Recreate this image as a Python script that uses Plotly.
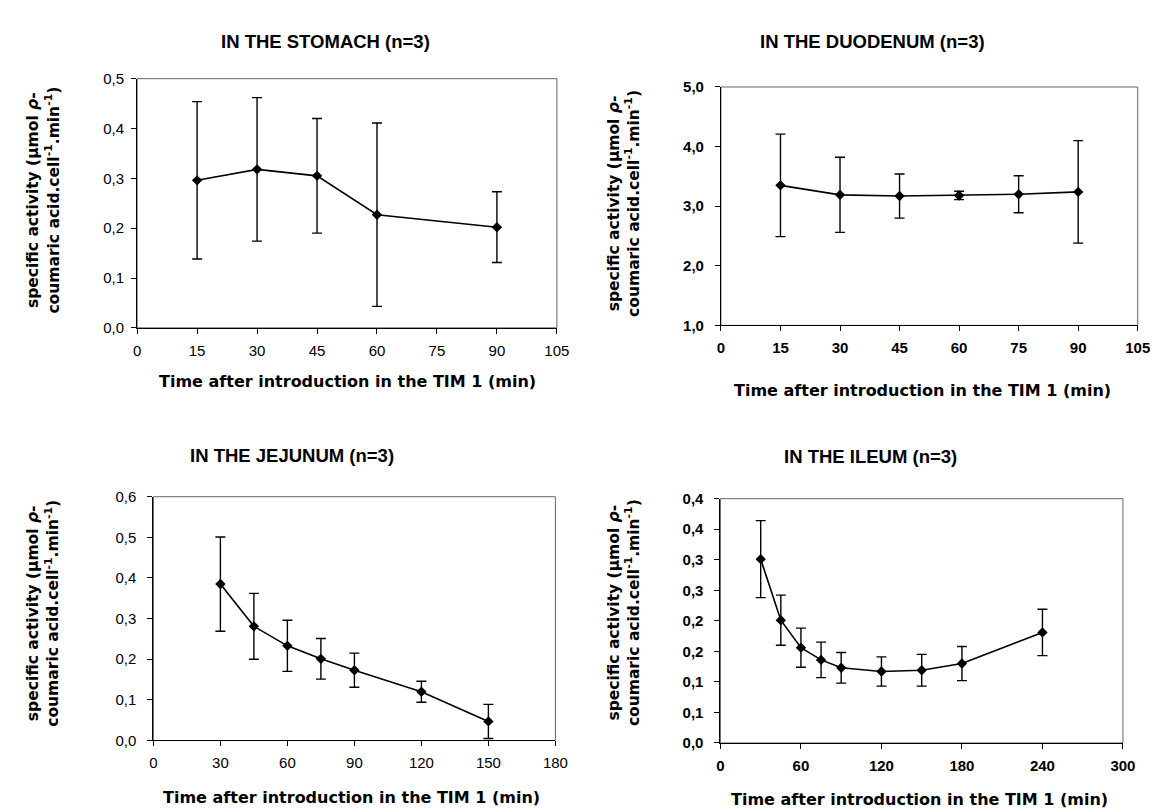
import plotly.graph_objects as go

W, H = 1158, 810

# ---------------- data ----------------
stomach_t = [15, 30, 45, 60, 90]
stomach_v = [0.296, 0.318, 0.305, 0.227, 0.202]
stomach_e = [0.158, 0.144, 0.115, 0.184, 0.071]

duod_t = [15, 30, 45, 60, 75, 90]
duod_v = [3.35, 3.19, 3.17, 3.18, 3.20, 3.24]
duod_e = [0.86, 0.63, 0.37, 0.07, 0.31, 0.86]

jej_t = [30, 45, 60, 75, 90, 120, 150]
jej_v = [0.385, 0.281, 0.233, 0.201, 0.173, 0.120, 0.047]
jej_e = [0.116, 0.081, 0.063, 0.050, 0.042, 0.026, 0.042]

ile_t = [30, 45, 60, 75, 90, 120, 150, 180, 240]
ile_v = [0.301, 0.201, 0.156, 0.136, 0.123, 0.117, 0.119, 0.130, 0.181]
ile_e = [0.063, 0.041, 0.032, 0.029, 0.025, 0.024, 0.026, 0.028, 0.038]

titles = ["IN THE STOMACH (n=3)", "IN THE DUODENUM (n=3)",
          "IN THE JEJUNUM (n=3)", "IN THE ILEUM (n=3)"]
x_title = "Time after introduction in the TIM 1 (min)"
y_title = "specific activity (µmol <i>ρ</i>-<br>coumaric acid.cell<sup>-1</sup>.min<sup>-1</sup>)"

stomach_yticks = [0, 0.1, 0.2, 0.3, 0.4, 0.5]
stomach_ylabels = ["0,0", "0,1", "0,2", "0,3", "0,4", "0,5"]
duod_yticks = [1, 2, 3, 4, 5]
duod_ylabels = ["1,0", "2,0", "3,0", "4,0", "5,0"]
jej_yticks = [0, 0.1, 0.2, 0.3, 0.4, 0.5, 0.6]
jej_ylabels = ["0,0", "0,1", "0,2", "0,3", "0,4", "0,5", "0,6"]
ile_yticks = [0, 0.05, 0.1, 0.15, 0.2, 0.25, 0.3, 0.35, 0.4]
ile_ylabels = ["0,0", "0,1", "0,1", "0,2", "0,2", "0,3", "0,3", "0,4", "0,4"]

stomach_xticks = [0, 15, 30, 45, 60, 75, 90, 105]
jej_xticks = [0, 30, 60, 90, 120, 150, 180]
ile_xticks = [0, 60, 120, 180, 240, 300]

# ---------------- layout helpers ----------------
def px_x(p):
    return p / W

def px_y(p):
    return 1 - p / H

panels = [
    dict(t=stomach_t, v=stomach_v, e=stomach_e, xr=[0, 105], yr=[0, 0.5],
         xt=stomach_xticks, yt=stomach_yticks, yl=stomach_ylabels,
         dom_x=[127, 553], dom_y=[63, 317.5], bold=False, ystand=4,
         title=(318, 25), xtitle=(340, 372), ytitle=(32, 187)),
    dict(t=duod_t, v=duod_v, e=duod_e, xr=[0, 105], yr=[1, 5],
         xt=stomach_xticks, yt=duod_yticks, yl=duod_ylabels,
         dom_x=[719.5, 1142.5], dom_y=[71.5, 315], bold=True, ystand=8,
         title=(873, 25), xtitle=(924, 382), ytitle=(621, 190)),
    dict(t=jej_t, v=jej_v, e=jej_e, xr=[0, 180], yr=[0, 0.6],
         xt=jej_xticks, yt=jej_yticks, yl=jej_ylabels,
         dom_x=[143.5, 551.5], dom_y=[490, 739], bold=False, ystand=8,
         title=(284, 448), xtitle=(345, 797), ytitle=(32, 609)),
    dict(t=ile_t, v=ile_v, e=ile_e, xr=[0, 300], yr=[0, 0.4],
         xt=ile_xticks, yt=ile_yticks, yl=ile_ylabels,
         dom_x=[719, 1127.5], dom_y=[492, 741.5], bold=True, ystand=8,
         title=(871, 449), xtitle=(921, 799), ytitle=(621, 608)),
]

fig = go.Figure()
annotations = []
shapes = []

for i, p in enumerate(panels, start=1):
    xa = "x" if i == 1 else f"x{i}"
    ya = "y" if i == 1 else f"y{i}"
    fig.add_trace(go.Scatter(
        x=p["t"], y=p["v"], xaxis=xa, yaxis=ya, mode="lines+markers",
        line=dict(color="black", width=1.6),
        marker=dict(symbol="diamond", size=8, color="black"),
        error_y=dict(type="data", array=p["e"], visible=True,
                     color="black", thickness=1.4, width=5),
        showlegend=False, cliponaxis=True,
    ))
    tickfont = dict(family="Liberation Sans, Arial, sans-serif", size=15,
                    color="black", weight="bold" if p["bold"] else "normal")
    xkey = "xaxis" if i == 1 else f"xaxis{i}"
    ykey = "yaxis" if i == 1 else f"yaxis{i}"
    fig.layout[xkey] = dict(
        domain=[px_x(p["dom_x"][0]), px_x(p["dom_x"][1])],
        anchor=ya, range=p["xr"], tickmode="array", tickvals=p["xt"],
        ticktext=[str(v) for v in p["xt"]],
        showgrid=False, zeroline=False, showline=True, linecolor="black",
        linewidth=1, ticks="outside", ticklen=5, tickcolor="black",
        tickfont=tickfont, ticklabelstandoff=4, fixedrange=True,
    )
    fig.layout[ykey] = dict(
        domain=[px_y(p["dom_y"][1]), px_y(p["dom_y"][0])],
        anchor=xa, range=p["yr"], tickmode="array", tickvals=p["yt"],
        ticktext=p["yl"],
        showgrid=False, zeroline=False, showline=True, linecolor="black",
        linewidth=1, ticks="outside", ticklen=5, tickcolor="black",
        tickfont=tickfont, ticklabelstandoff=p["ystand"], fixedrange=True,
    )
    # light frame on top/right (plot border)
    shapes.append(dict(type="rect", xref=f"{xa} domain", yref=f"{ya} domain",
                       x0=0, x1=1, y0=0, y1=1, layer="below",
                       line=dict(color="#666666", width=1)))
    # panel title
    annotations.append(dict(
        text=f"<b>{titles[i-1]}</b>", xref="paper", yref="paper",
        x=px_x(p["title"][0]), y=px_y(p["title"][1]),
        xanchor="center", yanchor="middle", showarrow=False,
        font=dict(family="Liberation Sans, Arial, sans-serif", size=18.5, color="black")))
    # x-axis title
    annotations.append(dict(
        text=f"<b>{x_title}</b>", xref="paper", yref="paper",
        x=px_x(p["xtitle"][0]), y=px_y(p["xtitle"][1]),
        xanchor="center", yanchor="middle", showarrow=False,
        font=dict(family="DejaVu Sans, Verdana, sans-serif", size=16, color="black")))
    # y-axis title
    annotations.append(dict(
        text=f"<b>{y_title}</b>", xref="paper", yref="paper",
        x=px_x(p["ytitle"][0]), y=px_y(p["ytitle"][1]),
        xanchor="center", yanchor="middle", showarrow=False, textangle=-90,
        font=dict(family="DejaVu Sans, Verdana, sans-serif", size=15.5, color="black")))

fig.update_layout(
    width=W, height=H, autosize=False,
    margin=dict(l=0, r=0, t=0, b=0),
    paper_bgcolor="white", plot_bgcolor="white",
    annotations=annotations, shapes=shapes,
    separators=",.",
)

fig.write_html("out.html")
